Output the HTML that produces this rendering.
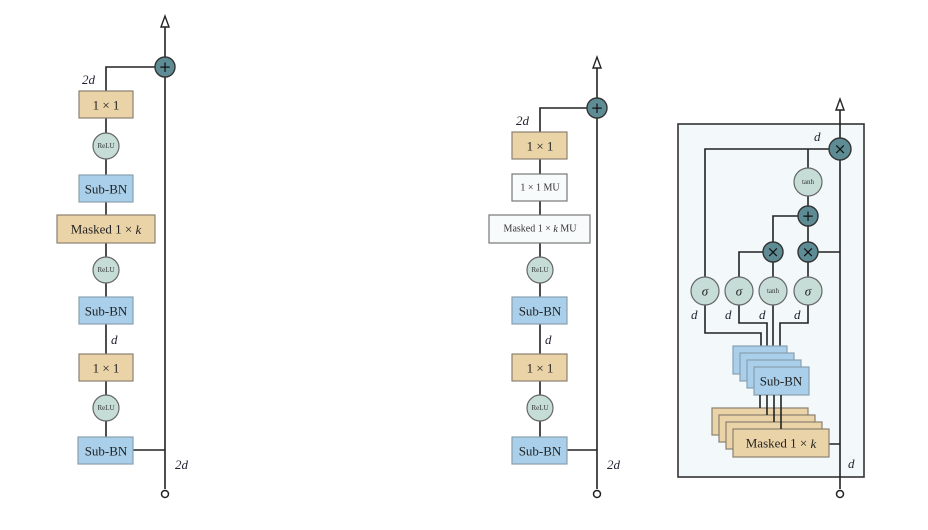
<!DOCTYPE html>
<html><head><meta charset="utf-8"><style>
html,body{margin:0;padding:0;background:#fff;}
svg{display:block;font-family:"Liberation Serif",serif;}
</style></head><body>
<svg width="928" height="530" viewBox="0 0 928 530" xmlns="http://www.w3.org/2000/svg">
<defs>
<style>
.ln{stroke:#222;stroke-width:1.6;fill:none}
.tan{fill:#ebd3a8;stroke:#8a8070;stroke-width:1.2}
.blu{fill:#a9cfea;stroke:#8aa0b0;stroke-width:1.2}
.wht{fill:#f7fbfb;stroke:#777;stroke-width:1.2}
.rel{fill:#c6ddd7;stroke:#666;stroke-width:1.2}
.drk{fill:#5e8c95;stroke:#333;stroke-width:1.4}
.t{font-size:13px;text-anchor:middle;dominant-baseline:central;fill:#222}
.s{font-size:7px;text-anchor:middle;dominant-baseline:central;fill:#333}
.m{font-size:10px;text-anchor:middle;dominant-baseline:central;fill:#333}
.i{font-size:13px;font-style:italic;fill:#223}
.op{font-size:15px;text-anchor:middle;dominant-baseline:central;fill:#111;font-family:"DejaVu Sans",sans-serif}
</style>
</defs>

<!-- LEFT COLUMN -->
<line class="ln" x1="165" y1="24" x2="165" y2="489"/>
<polygon points="161,27 169,27 165,16" fill="#fff" stroke="#222" stroke-width="1.4"/>
<circle cx="165" cy="494" r="3.5" fill="#fff" stroke="#222" stroke-width="1.5"/>
<polyline class="ln" points="165,67 106,67 106,437"/>
<line class="ln" x1="133" y1="450" x2="165" y2="450"/>
<circle class="drk" cx="165" cy="67" r="10"/><text class="op" x="165" y="67">+</text>
<text class="i" x="82" y="84">2d</text>
<rect class="tan" x="79" y="91" width="54" height="27"/><text class="t" x="106" y="105">1 × 1</text>
<circle class="rel" cx="106" cy="146" r="13"/><text class="s" x="106" y="146">ReLU</text>
<rect class="blu" x="79" y="175" width="54" height="27"/><text class="t" x="106" y="189">Sub-BN</text>
<rect class="tan" x="57" y="215" width="98" height="28"/><text class="t" x="106" y="229">Masked 1 × <tspan font-style="italic">k</tspan></text>
<circle class="rel" cx="106" cy="270" r="13"/><text class="s" x="106" y="270">ReLU</text>
<rect class="blu" x="79" y="297" width="54" height="27"/><text class="t" x="106" y="311">Sub-BN</text>
<text class="i" x="111" y="344">d</text>
<rect class="tan" x="79" y="354" width="54" height="27"/><text class="t" x="106" y="368">1 × 1</text>
<circle class="rel" cx="106" cy="408" r="13"/><text class="s" x="106" y="408">ReLU</text>
<rect class="blu" x="78" y="437" width="55" height="27"/><text class="t" x="106" y="451">Sub-BN</text>
<text class="i" x="175" y="469">2d</text>

<!-- MIDDLE COLUMN -->
<line class="ln" x1="597" y1="66" x2="597" y2="489"/>
<polygon points="593,68 601,68 597,57" fill="#fff" stroke="#222" stroke-width="1.4"/>
<circle cx="597" cy="494" r="3.5" fill="#fff" stroke="#222" stroke-width="1.5"/>
<polyline class="ln" points="597,108 540,108 540,437"/>
<line class="ln" x1="567" y1="450" x2="597" y2="450"/>
<circle class="drk" cx="597" cy="108" r="10"/><text class="op" x="597" y="108">+</text>
<text class="i" x="516" y="125">2d</text>
<rect class="tan" x="512" y="132" width="55" height="27"/><text class="t" x="540" y="146">1 × 1</text>
<rect class="wht" x="512" y="174" width="55" height="27"/><text class="m" x="540" y="188">1 × 1 MU</text>
<rect class="wht" x="489" y="215" width="101" height="28"/><text class="m" x="540" y="229">Masked 1 × <tspan font-style="italic">k</tspan> MU</text>
<circle class="rel" cx="540" cy="270" r="13"/><text class="s" x="540" y="270">ReLU</text>
<rect class="blu" x="512" y="297" width="55" height="27"/><text class="t" x="540" y="311">Sub-BN</text>
<text class="i" x="545" y="344">d</text>
<rect class="tan" x="512" y="354" width="55" height="27"/><text class="t" x="540" y="368">1 × 1</text>
<circle class="rel" cx="540" cy="408" r="13"/><text class="s" x="540" y="408">ReLU</text>
<rect class="blu" x="512" y="437" width="55" height="27"/><text class="t" x="540" y="451">Sub-BN</text>
<text class="i" x="607" y="469">2d</text>

<!-- RIGHT -->
<rect x="678" y="124" width="186" height="353" fill="#f3f9fa" stroke="#333" stroke-width="1.6"/>
<line class="ln" x1="840" y1="108" x2="840" y2="489"/>
<polygon points="836,110 844,110 840,99" fill="#fff" stroke="#222" stroke-width="1.4"/>
<circle cx="840" cy="494" r="3.5" fill="#fff" stroke="#222" stroke-width="1.5"/>
<polyline class="ln" points="840,149 705,149 705,292"/>
<line class="ln" x1="808" y1="149" x2="808" y2="292"/>
<polyline class="ln" points="808,216 773,216 773,292"/>
<polyline class="ln" points="773,252 739,252 739,292"/>
<line class="ln" x1="808" y1="252" x2="840" y2="252"/>
<!-- lines down to SubBN -->
<polyline class="ln" points="705,300 705,333 761,333 761,350"/>
<polyline class="ln" points="739,300 739,323 767,323 767,358"/>
<line class="ln" x1="773" y1="300" x2="773" y2="365"/>
<polyline class="ln" points="808,300 808,323 780,323 780,368"/>
<line class="ln" x1="809" y1="444" x2="840" y2="444"/>
<!-- SubBN stack -->
<rect class="blu" x="733" y="346" width="54" height="28"/>
<rect class="blu" x="740" y="353" width="54" height="28"/>
<rect class="blu" x="747" y="360" width="54" height="28"/>
<rect class="blu" x="754" y="367" width="55" height="28"/>
<text class="t" x="781" y="381">Sub-BN</text>
<!-- masked stack -->
<rect class="tan" x="712" y="408" width="96" height="27"/>
<rect class="tan" x="719" y="415" width="96" height="27"/>
<rect class="tan" x="726" y="422" width="96" height="27"/>
<rect class="tan" x="733" y="429" width="96" height="28"/>
<line class="ln" x1="760" y1="395" x2="760" y2="408"/>
<line class="ln" x1="767" y1="395" x2="767" y2="415"/>
<line class="ln" x1="774" y1="395" x2="774" y2="422"/>
<line class="ln" x1="781" y1="395" x2="781" y2="429"/>
<text class="t" x="781" y="443">Masked 1 × <tspan font-style="italic">k</tspan></text>
<!-- circles -->
<circle class="drk" cx="840" cy="149" r="11"/><text class="op" x="840" y="149" font-size="13">×</text>
<circle class="rel" cx="808" cy="182" r="14"/><text class="s" x="808" y="182" font-size="8">tanh</text>
<circle class="drk" cx="808" cy="216" r="10"/><text class="op" x="808" y="216">+</text>
<circle class="drk" cx="773" cy="252" r="10"/><text class="op" x="773" y="252" font-size="13">×</text>
<circle class="drk" cx="808" cy="252" r="10"/><text class="op" x="808" y="252" font-size="13">×</text>
<circle class="rel" cx="705" cy="291" r="14"/><text class="t" x="705" y="291" font-style="italic">σ</text>
<circle class="rel" cx="739" cy="291" r="14"/><text class="t" x="739" y="291" font-style="italic">σ</text>
<circle class="rel" cx="773" cy="291" r="14"/><text class="s" x="773" y="291" font-size="8">tanh</text>
<circle class="rel" cx="808" cy="291" r="14"/><text class="t" x="808" y="291" font-style="italic">σ</text>
<text class="i" x="814" y="141">d</text>
<text class="i" x="691" y="319">d</text>
<text class="i" x="725" y="319">d</text>
<text class="i" x="759" y="319">d</text>
<text class="i" x="794" y="319">d</text>
<text class="i" x="848" y="468">d</text>
</svg>
</body></html>
